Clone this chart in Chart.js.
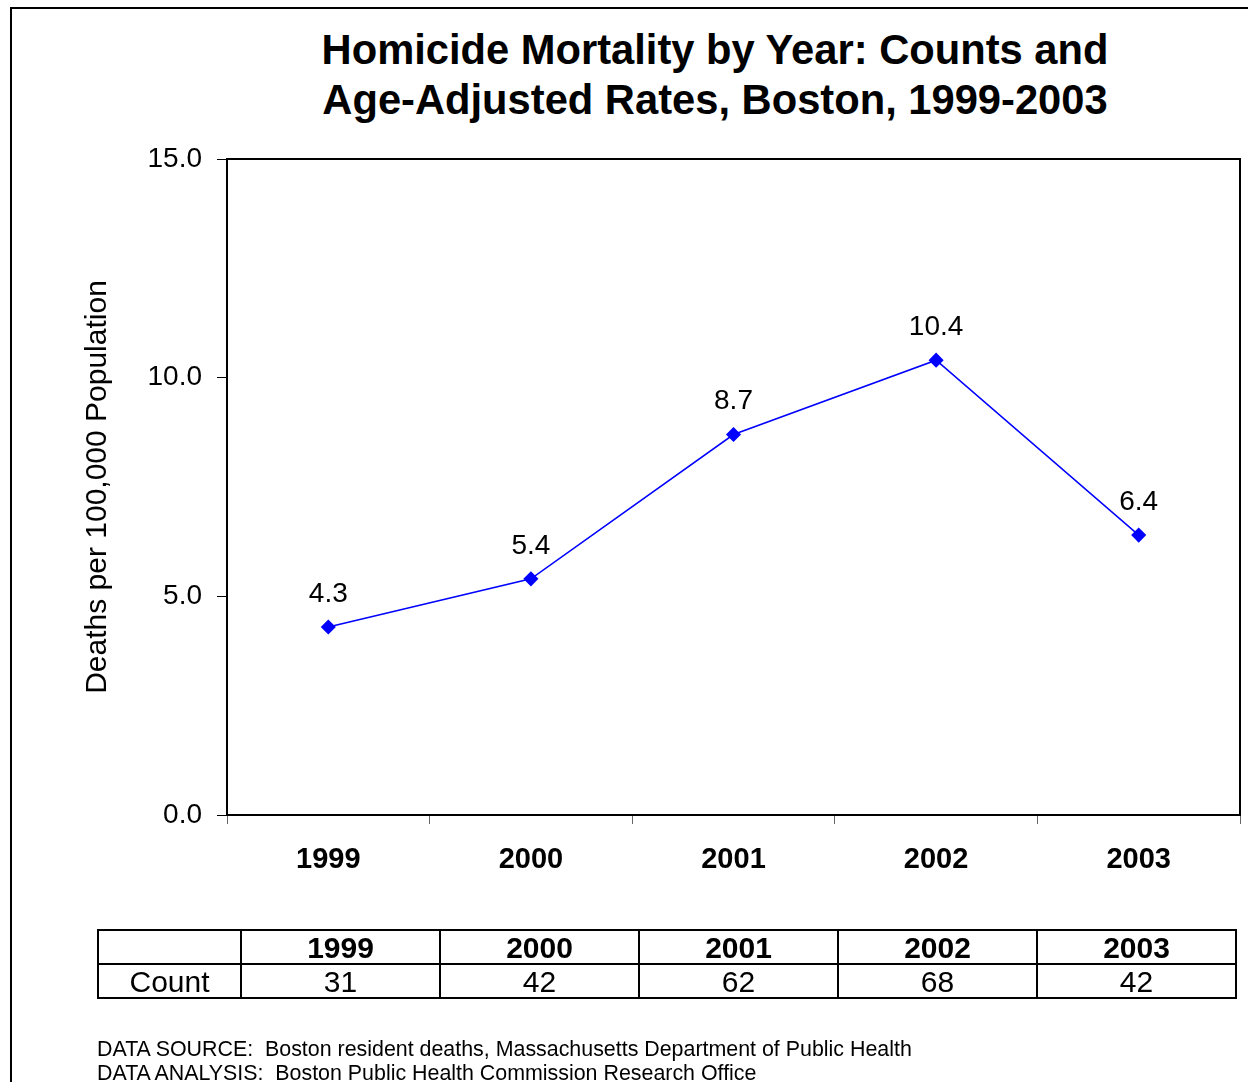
<!DOCTYPE html>
<html>
<head>
<meta charset="utf-8">
<script src="https://cdn.jsdelivr.net/npm/chart.js@4"></script>
<style>
  html, body { margin: 0; padding: 0; background: #fff; }
  body { width: 1248px; height: 1082px; position: relative; overflow: hidden; font-family: "Liberation Sans", Arial, sans-serif; }
  #frame { position: absolute; left: 10px; top: 7px; width: 1300px; height: 1200px; border-left: 2px solid #000; border-top: 2px solid #000; }
  #title { position: absolute; left: 265px; width: 900px; top: 25px; text-align: center; font-weight: bold; font-size: 41.7px; line-height: 50px; color: #000; }
  #chartBox { position: absolute; left: 0; top: 0; width: 1248px; height: 1082px; }
  #countTable { position: absolute; left: 97px; top: 929px; border-collapse: collapse; font-size: 30px; color: #000; }
  #countTable td { border: 2px solid #000; height: 32px; padding: 0; text-align: center; line-height: 31px; }
  #countTable td.first { width: 141px; }
  #countTable td.yr { width: 197px; }
  #countTable tr.head td { font-weight: bold; }
  #footer { position: absolute; left: 97px; top: 1037px; font-size: 21.4px; line-height: 24px; white-space: pre; color: #000; }
</style>
</head>
<body>
<div id="frame"></div>
<div id="title">Homicide Mortality by Year: Counts and<br>Age-Adjusted Rates, Boston, 1999-2003</div>
<div id="chartBox"><canvas id="myChart"></canvas></div>
<table id="countTable"></table>
<div id="footer"></div>

<script>
const years = ['1999', '2000', '2001', '2002', '2003'];
const rates = [4.3, 5.4, 8.7, 10.4, 6.4];
const counts = [31, 42, 62, 68, 42];
const yTicks = [0, 5, 10, 15];
const footerLines = [
  'DATA SOURCE:  Boston resident deaths, Massachusetts Department of Public Health',
  'DATA ANALYSIS:  Boston Public Health Commission Research Office'
];

const ctx = document.getElementById('myChart');
const fontFam = '"Liberation Sans", Arial, sans-serif';

// box around the plot area
const plotBorder = {
  id: 'plotBorder',
  afterDraw(chart) {
    const a = chart.chartArea;
    const c = chart.ctx;
    c.save();
    c.strokeStyle = '#000';
    c.lineWidth = 2;
    c.strokeRect(a.left, a.top, a.right - a.left, a.bottom - a.top);
    c.restore();
  }
};

// value labels above the points
const pointLabels = {
  id: 'pointLabels',
  afterDatasetsDraw(chart) {
    const c = chart.ctx;
    const meta = chart.getDatasetMeta(0);
    c.save();
    c.font = '28px ' + fontFam;
    c.fillStyle = '#000';
    c.textAlign = 'center';
    c.textBaseline = 'middle';
    meta.data.forEach((pt, i) => {
      c.fillText(rates[i].toFixed(1), pt.x, pt.y - 33);
    });
    c.restore();
  }
};

new Chart(ctx, {
  type: 'line',
  data: {
    labels: years,
    datasets: [{
      label: 'Age-adjusted rate',
      data: rates,
      borderColor: '#0000FF',
      backgroundColor: '#0000FF',
      borderWidth: 1.5,
      pointStyle: 'rectRot',
      pointRadius: 6.5,
      pointHoverRadius: 6.5,
      tension: 0
    }]
  },
  options: {
    responsive: true,
    maintainAspectRatio: false,
    animation: false,
    events: [],
    layout: { padding: { top: 159, right: 8, bottom: 0, left: 0 } },
    plugins: {
      legend: { display: false },
      tooltip: { enabled: false }
    },
    scales: {
      x: {
        offset: true,
        grid: { offset: true, drawOnChartArea: false, color: '#666', tickLength: 9, lineWidth: 1 },
        border: { color: '#000', width: 2 },
        ticks: {
          color: '#000',
          padding: 19,
          font: { family: fontFam, size: 29, weight: 'bold' }
        },
        afterFit(s) { s.height = 267; }
      },
      y: {
        min: 0,
        max: 15,
        afterBuildTicks(s) { s.ticks = yTicks.map(v => ({ value: v })); },
        grid: { drawOnChartArea: false, color: '#000', tickLength: 10, lineWidth: 1 },
        border: { color: '#000', width: 2 },
        ticks: {
          color: '#000',
          padding: 15,
          font: { family: fontFam, size: 28 },
          callback: v => Number(v).toFixed(1)
        },
        title: {
          display: true,
          text: 'Deaths per 100,000 Population',
          color: '#000',
          padding: { top: 80, bottom: 0 },
          font: { family: fontFam, size: 30 }
        },
        afterFit(s) { s.width = 227; }
      }
    }
  },
  plugins: [plotBorder, pointLabels]
});

// count table under the chart
const table = document.getElementById('countTable');
let head = '<tr class="head"><td class="first"></td>';
years.forEach(y => { head += '<td class="yr">' + y + '</td>'; });
head += '</tr>';
let row = '<tr><td class="first">Count</td>';
counts.forEach(n => { row += '<td class="yr">' + n + '</td>'; });
row += '</tr>';
table.innerHTML = head + row;

document.getElementById('footer').textContent = footerLines.join('\n');
</script>
</body>
</html>
